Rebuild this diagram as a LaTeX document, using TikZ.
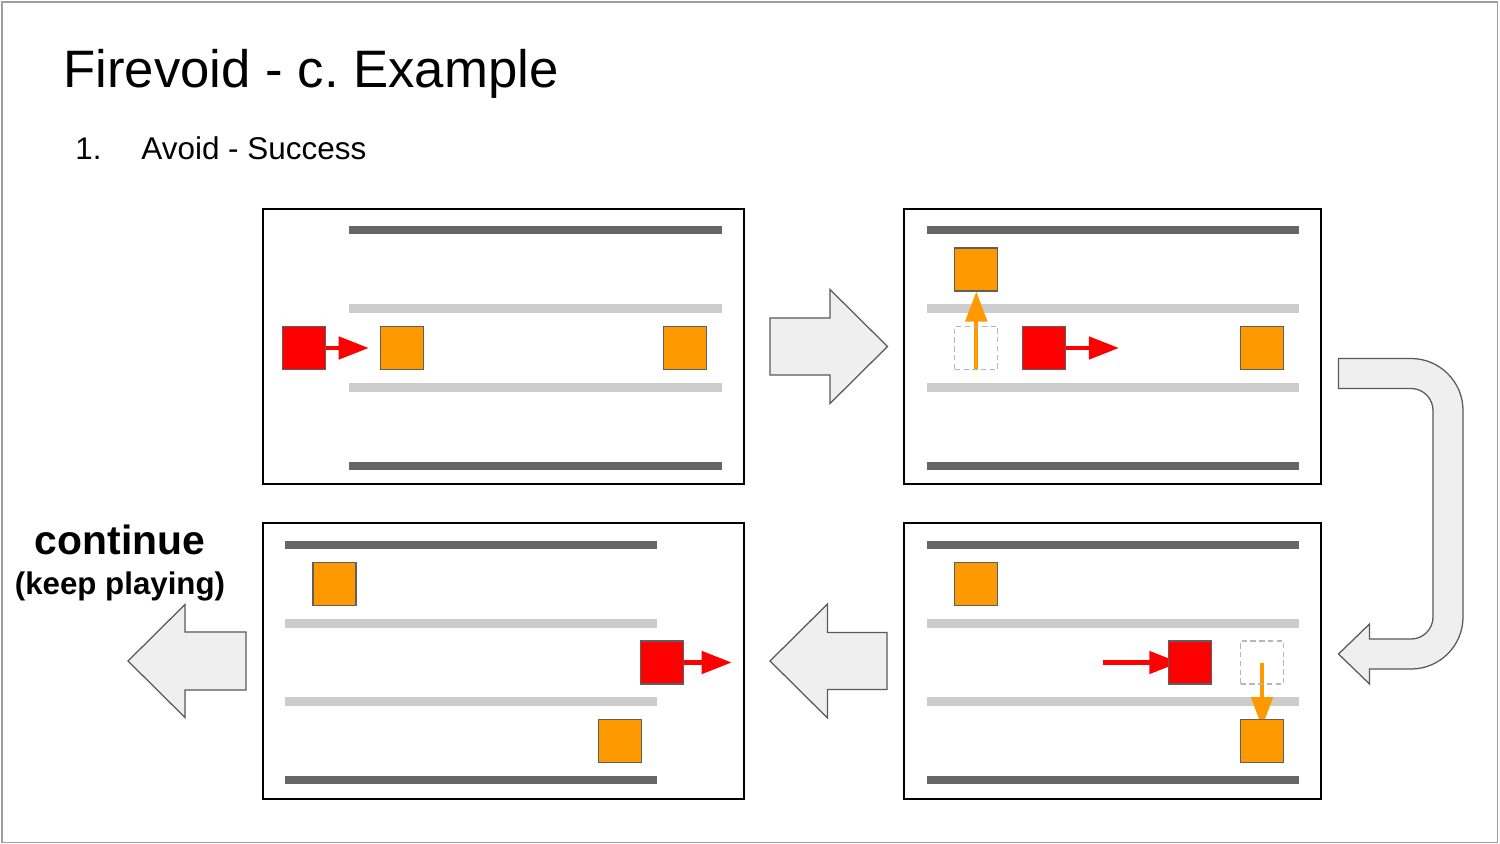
\documentclass[tikz,border=0pt]{standalone}
\usepackage{fontspec}
\setmainfont{Liberation Sans}
\usetikzlibrary{arrows.meta}
\pgfdeclarelayer{bars}
\pgfdeclarelayer{arrowlayer}
\pgfsetlayers{bars,arrowlayer,main}
\definecolor{sqred}{HTML}{FF0000}
\definecolor{sqorange}{HTML}{FF9900}
\definecolor{bardark}{HTML}{666666}
\definecolor{barlight}{HTML}{CCCCCC}
\definecolor{blockfill}{HTML}{EFEFEF}
\definecolor{blockline}{HTML}{595959}
\definecolor{sqline}{HTML}{5F5F5F}
\definecolor{ghost}{HTML}{B7B7B7}
\definecolor{framegray}{HTML}{9E9E9E}
\frenchspacing
\begin{document}
\begin{tikzpicture}[x=0.48pt,y=-0.48pt,
  panel/.style={draw=black,line width=0.75pt},
  darkbar/.style={draw=bardark,line width=4.05pt},
  lightbar/.style={draw=barlight,line width=4.2pt},
  sq/.style={rectangle,minimum size=20.64pt,inner sep=0pt,draw=sqline,line width=0.55pt},
  redsq/.style={sq,fill=sqred},
  orsq/.style={sq,fill=sqorange},
  ghostsq/.style={rectangle,minimum size=20.64pt,inner sep=0pt,draw=ghost,line width=0.5pt,dash pattern=on 2.6pt off 1.6pt},
  redarr/.style={draw=sqred,line width=2.1pt,-{Triangle[length=14.4pt,width=10.6pt]}},
  orarr/.style={draw=sqorange,line width=1.9pt,-{Triangle[length=14.4pt,width=10.3pt]}},
  block/.style={draw=blockline,fill=blockfill,line width=0.6pt,line join=miter},
  txt/.style={inner sep=0pt,text=black},
]
\useasboundingbox (0,0) rectangle (1500,844);
\begin{pgfonlayer}{bars}
\fill[white] (0,0) rectangle (1500,844);
\draw[framegray,line width=0.7pt] (2,2) rectangle (1497.5,842.5);
% panel A bars
\draw[darkbar] (349,230.2) -- (722,230.2);
\draw[lightbar] (349,308.8) -- (722,308.8);
\draw[lightbar] (349,387.2) -- (722,387.2);
\draw[darkbar] (349,466) -- (722,466);
% panel B bars
\draw[darkbar] (926.7,230.2) -- (1298.6,230.2);
\draw[lightbar] (926.7,308.8) -- (1298.6,308.8);
\draw[lightbar] (926.7,387.2) -- (1298.6,387.2);
\draw[darkbar] (926.7,466) -- (1298.6,466);
% panel C bars
\draw[darkbar] (926.7,544.8) -- (1298.6,544.8);
\draw[lightbar] (926.7,623.3) -- (1298.6,623.3);
\draw[lightbar] (926.7,701.7) -- (1298.6,701.7);
\draw[darkbar] (926.7,780.2) -- (1298.6,780.2);
% panel D bars
\draw[darkbar] (285,544.8) -- (656.8,544.8);
\draw[lightbar] (285,623.3) -- (656.8,623.3);
\draw[lightbar] (285,701.7) -- (656.8,701.7);
\draw[darkbar] (285,780.2) -- (656.8,780.2);
\end{pgfonlayer}

% panels
\draw[panel] (263,209) rectangle (744,484);
\draw[panel] (904,209) rectangle (1321,484);
\draw[panel] (904,523) rectangle (1321,799);
\draw[panel] (263,523) rectangle (744,799);

% texts
\node[txt,anchor=base west,font=\fontsize{25.3}{30}\selectfont] (title) at (63,88) {Firevoid - c. Example};
\node[txt,anchor=base west,font=\fontsize{15}{18}\selectfont] (num) at (75,160) {1.};
\node[txt,anchor=base west,font=\fontsize{15.1}{18}\selectfont] (sub) at (141,160) {Avoid - Success};
\node[txt,anchor=base,font=\bfseries\fontsize{19.6}{24}\selectfont] (cont) at (120,554) {continue};
\node[txt,anchor=base,font=\bfseries\fontsize{15}{18}\selectfont] (keep) at (120,594) {(keep playing)};

% panel A
\node[redsq] (a-red) at (303.8,348) {};
\node[orsq] (a-o1) at (402.2,348) {};
\node[orsq] (a-o2) at (684.8,348) {};
\coordinate (a-tip) at (368.7,348);
% panel B
\node[orsq] (b-o1) at (976.3,269.5) {};
\node[ghostsq] (b-g) at (976.3,348) {};
\node[redsq] (b-red) at (1043.8,348) {};
\node[orsq] (b-o2) at (1261.6,348) {};
\coordinate (b-tip) at (1118.9,348);
% panel C
\node[orsq] (c-o1) at (976.3,584) {};
\node[redsq] (c-red) at (1189.7,662.5) {};
\node[ghostsq] (c-g) at (1262,662.5) {};
\node[orsq] (c-o2) at (1262,740.8) {};
\coordinate (c-from) at (1103.3,662.5);
% panel D
\node[orsq] (d-o1) at (334.5,584) {};
\node[redsq] (d-red) at (662.2,662.5) {};
\node[orsq] (d-o2) at (619.8,740.8) {};
\coordinate (d-tip) at (731.7,662.5);

\begin{pgfonlayer}{arrowlayer}
\draw[redarr] (a-red.east) -- (a-tip);
\draw[orarr] (b-g.south) -- (b-o1.south);
\draw[redarr] (b-red.east) -- (b-tip);
\draw[redarr] (c-from) -- ([xshift=5.6pt]c-red.west);
\draw[orarr] (c-g.center) -- ([yshift=-4pt]c-o2.north);
\draw[redarr] (d-red.east) -- (d-tip);
\end{pgfonlayer}

% block arrows
\draw[block] (770,318) -- (830,318) -- (830,289.5) -- (887.5,346.5) -- (830,403.5) -- (830,375) -- (770,375) -- cycle;
\draw[block] (887,632.5) -- (827.5,632.5) -- (827.5,604) -- (770,661) -- (827.5,718) -- (827.5,689.5) -- (887,689.5) -- cycle;
\draw[block] (246,632) -- (185,632) -- (185,604.5) -- (128,661) -- (185,717.5) -- (185,690) -- (246,690) -- cycle;
\draw[block] (1338.5,358.5) -- (1411,358.5) arc[start angle=-90,end angle=0,radius=52]
  -- (1463,617) arc[start angle=0,end angle=90,radius=52]
  -- (1369.5,669) -- (1369.5,684) -- (1338.5,654) -- (1369.5,624) -- (1369.5,639) -- (1411,639)
  arc[start angle=90,end angle=0,radius=22] -- (1433,410.5)
  arc[start angle=0,end angle=-90,radius=22] -- (1338.5,388.5) -- cycle;
\end{tikzpicture}
\end{document}
